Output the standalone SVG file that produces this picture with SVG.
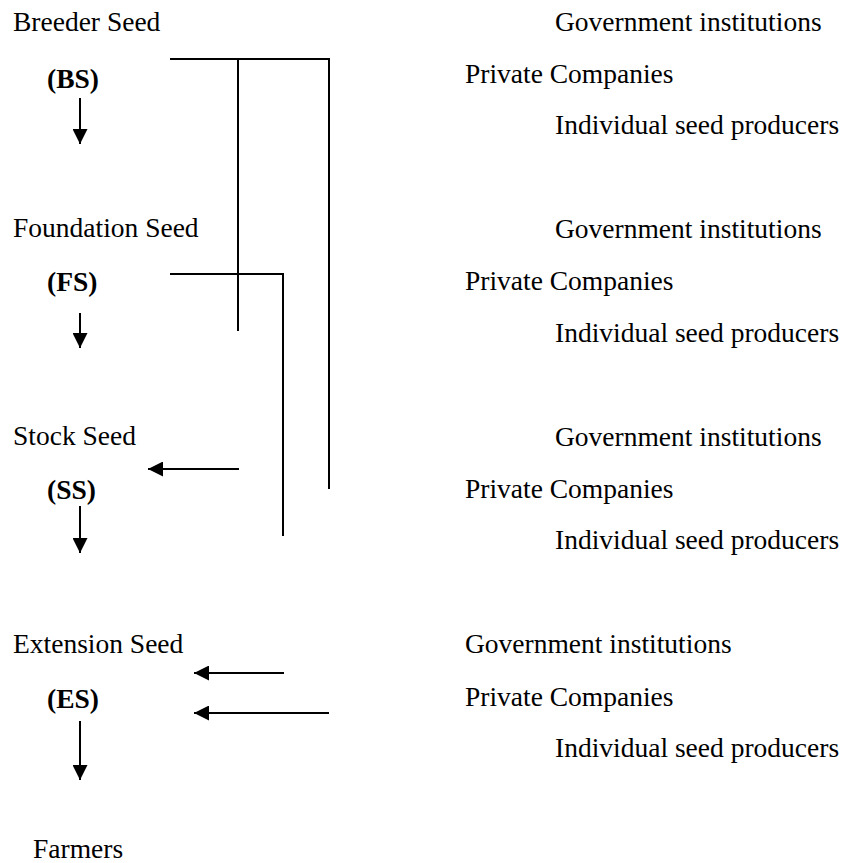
<svg xmlns="http://www.w3.org/2000/svg" width="844" height="863" viewBox="0 0 844 863">
  <style>
    text { font-family: "Liberation Serif", "Times New Roman", serif; font-size: 27.5px; fill: #000; }
    .code { font-weight: bold; }
    .wire { fill: none; stroke: #000; stroke-width: 2; }
    .arrow { fill: none; stroke: #000; stroke-width: 2; marker-end: url(#head); }
  </style>
  <defs>
    <marker id="head" viewBox="0 0 15 15" refX="15" refY="7.5" markerWidth="15" markerHeight="15" markerUnits="userSpaceOnUse" orient="auto">
      <path d="M0,0 L15,7.5 L0,15 Z" fill="#000"/>
    </marker>
  </defs>
  <rect width="844" height="863" fill="#fff"/>

  <!-- seed classes -->
  <g id="breeder-seed">
    <text x="13" y="31">Breeder Seed</text>
    <text class="code" x="47" y="88">(BS)</text>
  </g>
  <g id="foundation-seed">
    <text x="13" y="237">Foundation Seed</text>
    <text class="code" x="47" y="291">(FS)</text>
  </g>
  <g id="stock-seed">
    <text x="13" y="445">Stock Seed</text>
    <text class="code" x="47" y="499">(SS)</text>
  </g>
  <g id="extension-seed">
    <text x="13" y="653">Extension Seed</text>
    <text class="code" x="47" y="708">(ES)</text>
  </g>
  <g id="farmers">
    <text x="33" y="858">Farmers</text>
  </g>

  <!-- producers for each class -->
  <g id="producers-bs">
    <text x="555" y="31">Government institutions</text>
    <text x="465" y="83">Private Companies</text>
    <text x="555" y="134">Individual seed producers</text>
  </g>
  <g id="producers-fs">
    <text x="555" y="238">Government institutions</text>
    <text x="465" y="290">Private Companies</text>
    <text x="555" y="342">Individual seed producers</text>
  </g>
  <g id="producers-ss">
    <text x="555" y="446">Government institutions</text>
    <text x="465" y="498">Private Companies</text>
    <text x="555" y="549">Individual seed producers</text>
  </g>
  <g id="producers-es">
    <text x="465" y="653">Government institutions</text>
    <text x="465" y="706">Private Companies</text>
    <text x="555" y="757">Individual seed producers</text>
  </g>

  <!-- connectors -->
  <g id="connectors">
    <line class="arrow" x1="80" y1="98" x2="80" y2="144"/>
    <line class="arrow" x1="80" y1="313" x2="80" y2="348"/>
    <line class="arrow" x1="80" y1="506" x2="80" y2="553"/>
    <line class="arrow" x1="80" y1="721" x2="80" y2="780"/>

    <polyline class="wire" points="170,59 329,59 329,489"/>
    <line class="wire" x1="238" y1="59" x2="238" y2="331"/>
    <polyline class="wire" points="170,274 283,274 283,536"/>

    <line class="arrow" x1="239" y1="469" x2="148" y2="469"/>
    <line class="arrow" x1="284" y1="673" x2="194" y2="673"/>
    <line class="arrow" x1="329" y1="713" x2="194" y2="713"/>
  </g>
</svg>
